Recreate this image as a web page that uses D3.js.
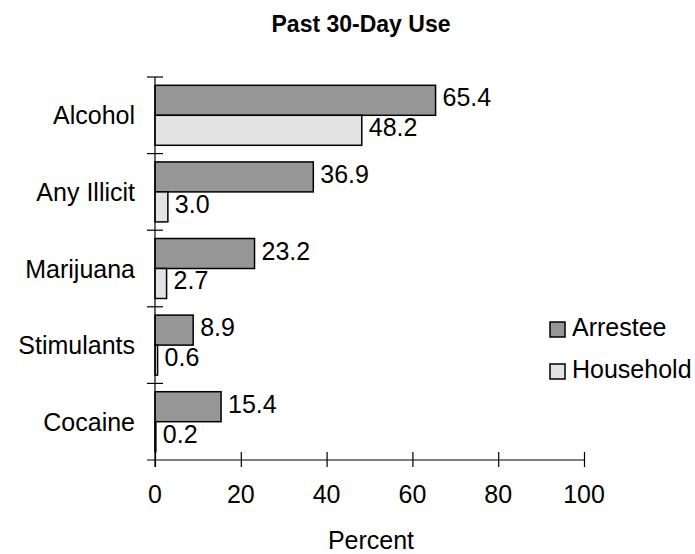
<!DOCTYPE html>
<html>
<head>
<meta charset="utf-8">
<script src="https://cdn.jsdelivr.net/npm/d3@7"></script>
<style>
  body { margin: 0; background: #fff; }
  text { font-family: Arial, "Liberation Sans", sans-serif; fill: #000; }
</style>
</head>
<body>
<div id="chart"></div>
<script>
// data
var categories = ["Alcohol", "Any Illicit", "Marijuana", "Stimulants", "Cocaine"];
var seriesNames = ["Arrestee", "Household"];
var arrestee = [65.4, 36.9, 23.2, 8.9, 15.4];
var household = [48.2, 3.0, 2.7, 0.6, 0.2];
var xTicks = [0, 20, 40, 60, 80, 100];

var colors = { Arrestee: "#969696", Household: "#e3e3e3" };

var width = 695, height = 554;
var svg = d3.select("#chart").append("svg")
  .attr("width", width)
  .attr("height", height);

// scales
var x = d3.scaleLinear().domain([0, 100]).range([155, 584]);
var y = d3.scaleBand().domain(categories).range([77, 460]).paddingInner(0).paddingOuter(0);
var ySub = d3.scaleBand().domain(seriesNames).range([0, y.bandwidth()]).paddingInner(0).paddingOuter(0.277);

// build rows from the arrays
var rows = [];
categories.forEach(function(c, i) {
  rows.push({ cat: c, series: "Arrestee", value: arrestee[i] });
  rows.push({ cat: c, series: "Household", value: household[i] });
});

// title
svg.append("text")
  .attr("x", 361)
  .attr("y", 32)
  .attr("text-anchor", "middle")
  .style("font-size", "23px")
  .style("font-weight", "bold")
  .text("Past 30-Day Use");

// bars
svg.selectAll(".bar")
  .data(rows)
  .enter()
  .append("rect")
  .attr("class", "bar")
  .attr("x", x(0))
  .attr("y", function(d) { return y(d.cat) + ySub(d.series); })
  .attr("width", function(d) { return x(d.value) - x(0); })
  .attr("height", ySub.bandwidth())
  .attr("fill", function(d) { return colors[d.series]; })
  .attr("stroke", "#000")
  .attr("stroke-width", 1.5);

// value labels
svg.selectAll(".val")
  .data(rows)
  .enter()
  .append("text")
  .attr("class", "val")
  .attr("x", function(d) { return x(d.value) + 7; })
  .attr("y", function(d) { return y(d.cat) + ySub(d.series) + ySub.bandwidth() / 2 + 6; })
  .style("font-size", "25px")
  .text(function(d) { return d.value.toFixed(1); });

// x axis
var xAxis = svg.append("g")
  .attr("transform", "translate(0,460)")
  .call(d3.axisBottom(x).tickValues(xTicks).tickSize(0).tickPadding(0).tickFormat(d3.format("d")));
xAxis.select(".domain").remove();
xAxis.selectAll("text").remove();
xAxis.selectAll(".tick line")
  .attr("y1", -8).attr("y2", 7)
  .attr("stroke", "#000").attr("stroke-width", 1.2);
xAxis.append("line")
  .attr("x1", 147).attr("x2", x(100))
  .attr("stroke", "#000").attr("stroke-width", 1.2);

svg.selectAll(".xlab")
  .data(xTicks)
  .enter()
  .append("text")
  .attr("class", "xlab")
  .attr("x", function(d) { return x(d); })
  .attr("y", 503)
  .attr("text-anchor", "middle")
  .style("font-size", "25px")
  .text(function(d) { return d; });

// y axis
svg.append("line")
  .attr("x1", x(0)).attr("x2", x(0))
  .attr("y1", 77).attr("y2", 467)
  .attr("stroke", "#000").attr("stroke-width", 1.2);

svg.selectAll(".ytick")
  .data(categories)
  .enter()
  .append("line")
  .attr("class", "ytick")
  .attr("x1", 147).attr("x2", 163)
  .attr("y1", function(d) { return y(d); })
  .attr("y2", function(d) { return y(d); })
  .attr("stroke", "#000").attr("stroke-width", 1.2);

svg.selectAll(".ylab")
  .data(categories)
  .enter()
  .append("text")
  .attr("class", "ylab")
  .attr("x", 135)
  .attr("y", function(d) { return y(d) + y.bandwidth() / 2 + 9; })
  .attr("text-anchor", "end")
  .style("font-size", "25px")
  .text(function(d) { return d; });

// axis title
svg.append("text")
  .attr("x", 371)
  .attr("y", 549)
  .attr("text-anchor", "middle")
  .style("font-size", "25px")
  .text("Percent");

// legend
var legend = svg.selectAll(".legend")
  .data(seriesNames)
  .enter()
  .append("g")
  .attr("class", "legend")
  .attr("transform", function(d, i) { return "translate(550," + (322 + i * 42) + ")"; });

legend.append("rect")
  .attr("width", 15)
  .attr("height", 15)
  .attr("fill", function(d) { return colors[d]; })
  .attr("stroke", "#000")
  .attr("stroke-width", 1.5);

legend.append("text")
  .attr("x", 22)
  .attr("y", 14)
  .style("font-size", "25px")
  .text(function(d) { return d; });
</script>
</body>
</html>
